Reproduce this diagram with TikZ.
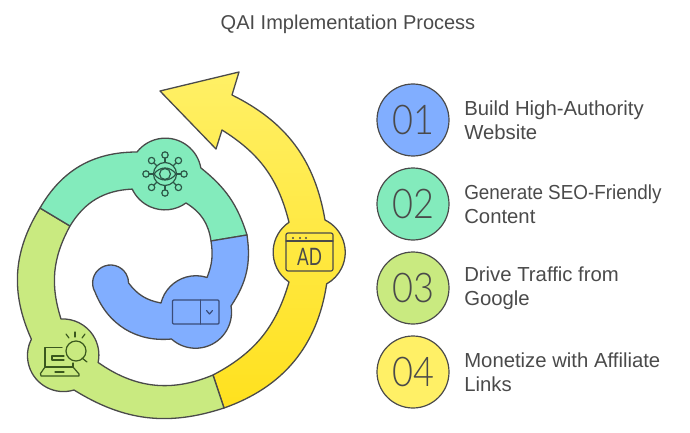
\documentclass[tikz,border=0pt]{standalone}
\usepackage{fontspec}
\usepackage{xcolor}
\usepackage{tikz}
\usetikzlibrary{positioning}
\setmainfont{Liberation Sans}
\newfontfamily\numfont[FakeStretch=0.88]{Lato Light}
\newfontfamily\adfont[FakeStretch=0.72]{Lato}
\definecolor{bluecolor}{RGB}{129,174,255}
\definecolor{greencolor}{RGB}{131,235,188}
\definecolor{limecolor}{RGB}{201,234,128}
\definecolor{yellowcolor}{RGB}{255,240,102}
\definecolor{yellowdeep}{RGB}{255,225,30}
\definecolor{edgecolor}{RGB}{74,74,74}
\definecolor{textcolor}{RGB}{74,74,74}
\definecolor{blueicon}{RGB}{58,76,120}
\definecolor{greenicon}{RGB}{45,88,72}
\definecolor{limeicon}{RGB}{58,88,30}
\tikzset{
  band/.style={draw=edgecolor, line width=1.3pt, line join=round},
  icon/.style={line width=1.2pt, line cap=round, line join=round},
  numcircle/.style={circle, draw=edgecolor, line width=1.2pt, minimum size=72pt, inner sep=0pt,
    text=textcolor, font=\numfont\fontsize{41}{41}\selectfont},
  steplabel/.style={anchor=west, align=left, text=textcolor, inner sep=0pt,
    font=\fontsize{20.3}{24}\selectfont},
}
\begin{document}
\begin{tikzpicture}[x=1pt, y=-1pt]
  \useasboundingbox (0,0) rectangle (690,433);
  \node[text=textcolor, font=\fontsize{20}{22}\selectfont] (title) at (348,24) {QAI Implementation Process};

  % ring
  \draw[band, top color=yellowcolor, bottom color=yellowdeep]
    (160,91) -- (239,72) -- (232,95)
    to[bend left=27] (325,220)
    arc[start angle=-64, end angle=61, radius=36]
    to[bend left=31] (224,408)
    -- (213,375)
    to[bend right=23] (289,282)
    arc[start angle=124, end angle=236, radius=36]
    to[bend right=22] (222,130)
    -- (216,149) -- cycle;
  \draw[band, fill=limecolor]
    (224,408) to[bend left=25] (74,390)
    arc[start angle=73, end angle=207, radius=36]
    to[bend left=28] (40,208)
    -- (70,226)
    to[bend right=23] (61,319)
    arc[start angle=267, end angle=372, radius=36]
    to[bend right=29] (213,375)
    -- cycle;
  \draw[band, fill=greencolor]
    (40,208) to[bend left=30] (137,152)
    arc[start angle=218, end angle=350, radius=36]
    to[bend left=17] (247,235)
    -- (211,241)
    to[bend right=25] (186,203)
    arc[start angle=54, end angle=155, radius=36]
    to[bend right=28] (70,226)
    -- cycle;
  \draw[band, fill=bluecolor]
    (247,235) to[bend left=21] (231,306)
    arc[start angle=-10, end angle=132, radius=36]
    to[bend left=37] (95,292)
    arc[start angle=150, end angle=360, radius=18]
    to[bend right=21] (161,303)
    arc[start angle=194, end angle=288, radius=36]
    to[bend right=15] (211,241)
    -- cycle;

  % eye icon
  \begin{scope}[icon, draw=greenicon, shift={(165,174)}]
    \draw (0,0) circle (11.5);
    \draw (-11,0) .. controls (-5,-8) and (5,-8) .. (11,0) .. controls (5,8) and (-5,8) .. (-11,0);
    \draw (0,0) circle (5.5);
    \foreach \a in {0,45,...,315} {
      \draw (\a:11.5) -- (\a:16);
      \draw (\a:19) circle (3.2);
    }
  \end{scope}

  % ad icon
  \draw[icon, draw=edgecolor, rounded corners=2pt] (286,233) rectangle (333,271);
  \draw[icon, draw=edgecolor] (286,241) -- (333,241);
  \foreach \x in {293,300,306} \fill[edgecolor] (\x,238) circle (1.2);
  \node[text=edgecolor, font=\adfont\fontsize{24}{24}\selectfont, inner sep=0pt] (adword) at (309.5,256.5) {AD};

  % dropdown icon
  \draw[icon, draw=blueicon, rounded corners=1pt] (172.5,300) rectangle (219,324);
  \draw[icon, draw=blueicon] (200.5,300) -- (200.5,324);
  \draw[icon, draw=blueicon] (206.5,310.5) -- (209.5,314) -- (212.5,310.5);

  % laptop icon
  \begin{scope}[icon, draw=limeicon]
    \draw (62,347.5) -- (45,347.5) -- (45,367) -- (73,367) -- (73,363);
    \draw (45,367) -- (40.5,373.5) -- (41,376) -- (79,376) -- (79,374) -- (73,367);
    \draw (55,372) -- (64,372);
    \draw (64,356) -- (52,356) -- (52,360) -- (64,360);
    \draw (76,351) circle (10);
    \draw (82,358) -- (87,362);
    \draw (75,332) -- (75,337);
    \draw (66,334) -- (69,338);
    \draw (85,334) -- (82,338);
  \end{scope}

  % legend
  \node[numcircle, fill=bluecolor] (num1) at (413,120) {01};
  \node[numcircle, fill=greencolor] (num2) at (413,204) {02};
  \node[numcircle, fill=limecolor] (num3) at (413,288) {03};
  \node[numcircle, fill=yellowcolor] (num4) at (413,372) {04};

  \node[steplabel, right=14.5pt of num1] (text1) {Build High-Authority\\Website};
  \node[steplabel, right=14.5pt of num2] (text2) {{\addfontfeature{FakeStretch=0.93}Generate SEO-Friendly}\\Content};
  \node[steplabel, right=14.5pt of num3] (text3) {Drive Traffic from\\Google};
  \node[steplabel, right=14.5pt of num4] (text4) {Monetize with Affiliate\\Links};
\end{tikzpicture}
\end{document}
